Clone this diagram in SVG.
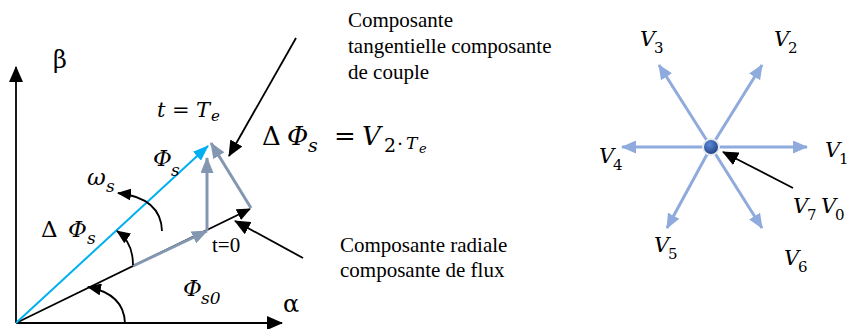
<svg xmlns="http://www.w3.org/2000/svg" width="848" height="329" viewBox="0 0 848 329">
<style>
.txt{font-family:"Liberation Serif","Times New Roman",Tinos,"DejaVu Serif",serif;font-size:21px;fill:#000}
.m{font-family:"DejaVu Serif","Liberation Serif",serif;font-style:italic;fill:#000}
.r{font-family:"DejaVu Serif","Liberation Serif",serif;font-style:normal;fill:#000}
.k{stroke:#000;stroke-width:1.8;fill:none}
.bl{stroke:#00B0F0;stroke-width:2;fill:none}
.gr{stroke:#8497B0;stroke-width:3;fill:none}
.lb{stroke:#8FAADC;stroke-width:3;fill:none}
</style>
<defs>
<marker id="ak" viewBox="0 0 14 12" refX="13" refY="6" markerWidth="14" markerHeight="12" orient="auto" markerUnits="userSpaceOnUse"><path d="M0,0L14,6L0,12z" fill="#000"/></marker>
<marker id="akl" viewBox="0 0 16 14" refX="15" refY="7" markerWidth="16" markerHeight="14" orient="auto" markerUnits="userSpaceOnUse"><path d="M0,0L16,7L0,14z" fill="#000"/></marker>
<marker id="ab" viewBox="0 0 16 12" refX="15" refY="6" markerWidth="16" markerHeight="12" orient="auto" markerUnits="userSpaceOnUse"><path d="M0,0L16,6L0,12z" fill="#00B0F0"/></marker>
<marker id="ag" viewBox="0 0 16 13" refX="15" refY="6.5" markerWidth="16" markerHeight="13" orient="auto" markerUnits="userSpaceOnUse"><path d="M0,0L16,6.5L0,13z" fill="#8497B0"/></marker>
<marker id="al" viewBox="0 0 15 13" refX="14" refY="6.5" markerWidth="15" markerHeight="13" orient="auto" markerUnits="userSpaceOnUse"><path d="M0,0L15,6.5L0,13z" fill="#8FAADC"/></marker>
<radialGradient id="dot" cx="0.4" cy="0.35" r="0.7"><stop offset="0" stop-color="#5A8AD8"/><stop offset="1" stop-color="#1E3A78"/></radialGradient>
</defs>

<g id="axes">
<line class="k" x1="16" y1="323" x2="16" y2="67" marker-end="url(#akl)"/>
<line class="k" x1="16" y1="323" x2="282" y2="323" marker-end="url(#akl)"/>
</g>

<g id="connectors">
<line class="k" x1="16" y1="323" x2="250" y2="209" marker-end="url(#ak)"/>
<line class="bl" x1="16" y1="323" x2="208" y2="146" marker-end="url(#ab)"/>
<line class="gr" x1="133" y1="266" x2="207" y2="231" marker-end="url(#ag)"/>
<line class="gr" x1="207" y1="231" x2="207" y2="158" marker-end="url(#ag)"/>
<line class="gr" x1="251" y1="208" x2="211" y2="143" marker-end="url(#ag)"/>
<line class="k" x1="296" y1="38" x2="229" y2="156" marker-end="url(#akl)"/>
<line class="k" x1="303" y1="258" x2="235" y2="221" marker-end="url(#akl)"/>
<path class="k" d="M125,323 Q124,294 88,287" marker-end="url(#ak)"/>
<path class="k" d="M133,265 Q133,242 117,231" marker-end="url(#ak)"/>
<path class="k" d="M162,231 Q161,198 118,193" marker-end="url(#ak)"/>
<line class="lb" x1="711" y1="147" x2="807" y2="147" marker-end="url(#al)"/>
<line class="lb" x1="711" y1="147" x2="622" y2="147" marker-end="url(#al)"/>
<line class="lb" x1="711" y1="147" x2="762" y2="65" marker-end="url(#al)"/>
<line class="lb" x1="711" y1="147" x2="659" y2="65" marker-end="url(#al)"/>
<line class="lb" x1="711" y1="147" x2="667" y2="228" marker-end="url(#al)"/>
<line class="lb" x1="711" y1="147" x2="762" y2="228" marker-end="url(#al)"/>
<line class="k" x1="793" y1="188" x2="723" y2="152" marker-end="url(#akl)"/>
</g>

<g id="center-dot">
<circle cx="711" cy="147" r="8" fill="url(#dot)" stroke="#E4E9F2" stroke-width="2"/>
</g>

<g id="labels-left">
<text class="r" x="53" y="68" font-size="24">β</text>
<text class="r" x="283" y="312" font-size="24">α</text>
<text id="t-te" class="m" font-size="21"><tspan x="157" y="117">t</tspan><tspan class="r" x="172" y="117">=</tspan><tspan x="196" y="117">T</tspan><tspan x="211" y="121" font-size="15">e</tspan></text>
<text id="phis" class="m" font-size="23"><tspan x="153" y="166">Φ</tspan><tspan x="171" y="176" font-size="17">s</tspan></text>
<text id="omegas" class="m" font-size="23"><tspan x="87" y="185">ω</tspan><tspan x="106" y="192" font-size="17">s</tspan></text>
<text id="dphis" font-size="23"><tspan class="r" x="41" y="237">Δ</tspan><tspan class="m" x="68" y="237">Φ</tspan><tspan class="m" x="87" y="244" font-size="17">s</tspan></text>
<text class="txt" x="212" y="252" font-size="16">t=0</text>
<text id="phis0" class="m" font-size="23"><tspan x="183" y="296">Φ</tspan><tspan x="201" y="304" font-size="17">s0</tspan></text>
<text id="eq" font-size="26"><tspan class="r" x="262" y="145">Δ</tspan><tspan class="m" x="287" y="145">Φ</tspan><tspan class="m" x="308" y="152" font-size="19">s</tspan><tspan class="r" x="334" y="145">=</tspan><tspan class="m" x="362" y="145">V</tspan><tspan class="r" x="384" y="152" font-size="19">2</tspan><tspan class="r" x="397" y="145" font-size="19">.</tspan><tspan class="m" x="406" y="149" font-size="17">T</tspan><tspan class="m" x="419" y="153" font-size="13">e</tspan></text>
</g>

<g id="notes">
<text class="txt" x="348" y="27">Composante</text>
<text class="txt" x="348" y="53">tangentielle composante</text>
<text class="txt" x="348" y="79">de couple</text>
<text class="txt" x="340" y="252">Composante radiale</text>
<text class="txt" x="340" y="277">composante de flux</text>
</g>

<g id="labels-right" class="m" font-size="21">
<text><tspan x="640" y="46">V</tspan><tspan class="r" x="654" y="53" font-size="15">3</tspan></text>
<text><tspan x="774" y="46">V</tspan><tspan class="r" x="788" y="53" font-size="15">2</tspan></text>
<text><tspan x="825" y="157">V</tspan><tspan class="r" x="839" y="164" font-size="15">1</tspan></text>
<text><tspan x="599" y="163">V</tspan><tspan class="r" x="613" y="170" font-size="15">4</tspan></text>
<text><tspan x="793" y="213">V</tspan><tspan class="r" x="807" y="220" font-size="15">7</tspan><tspan x="821" y="213">V</tspan><tspan class="r" x="835" y="220" font-size="15">0</tspan></text>
<text><tspan x="654" y="252">V</tspan><tspan class="r" x="668" y="259" font-size="15">5</tspan></text>
<text><tspan x="784" y="265">V</tspan><tspan class="r" x="798" y="272" font-size="15">6</tspan></text>
</g>
</svg>
